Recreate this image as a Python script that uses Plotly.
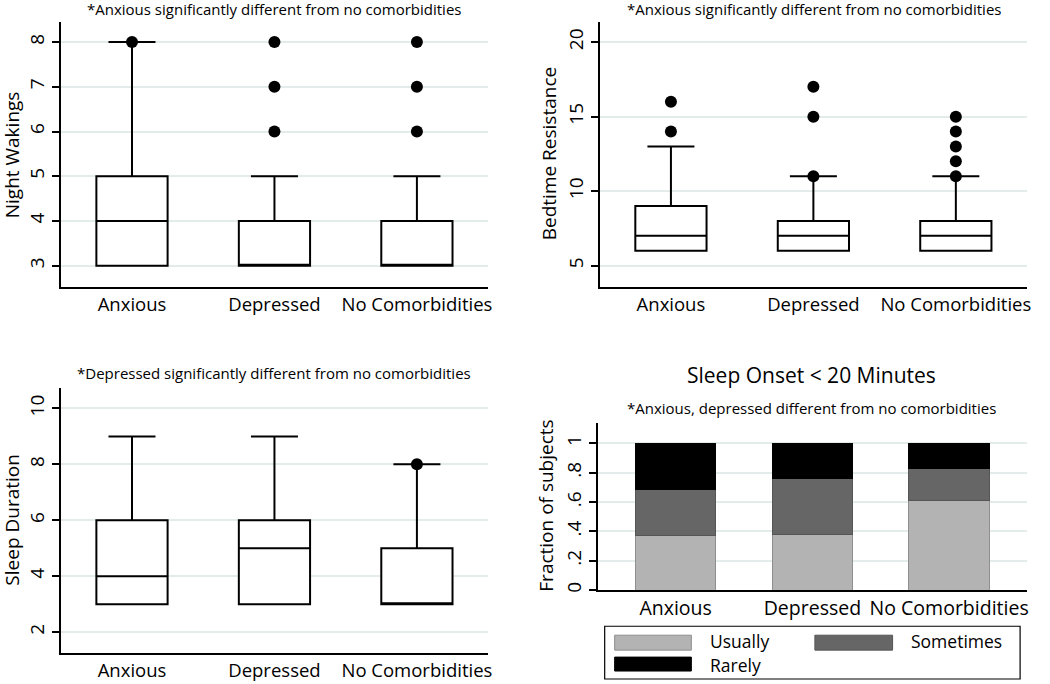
import plotly.graph_objects as go

W, H = 1050, 684
FONT = "Open Sans"

groups = ["Anxious", "Depressed", "No Comorbidities"]

# Night wakings box stats
nw_q1 = [3, 3, 3]
nw_med = [4, 3, 3]
nw_q3 = [5, 4, 4]
nw_lo = [3, 3, 3]
nw_hi = [8, 5, 5]
nw_out_x = ["Anxious", "Depressed", "Depressed", "Depressed",
            "No Comorbidities", "No Comorbidities", "No Comorbidities"]
nw_out_y = [8, 6, 7, 8, 6, 7, 8]

# Bedtime resistance box stats
br_q1 = [6, 6, 6]
br_med = [7, 7, 7]
br_q3 = [9, 8, 8]
br_lo = [6, 6, 6]
br_hi = [13, 11, 11]
br_out_x = ["Anxious", "Anxious", "Depressed", "Depressed", "Depressed",
            "No Comorbidities", "No Comorbidities", "No Comorbidities",
            "No Comorbidities", "No Comorbidities"]
br_out_y = [14, 16, 11, 15, 17, 11, 12, 13, 14, 15]

# Sleep duration box stats
sd_q1 = [3, 3, 3]
sd_med = [4, 5, 3]
sd_q3 = [6, 6, 5]
sd_lo = [3, 3, 3]
sd_hi = [9, 9, 8]
sd_out_x = ["No Comorbidities"]
sd_out_y = [8]

# Sleep onset < 20 minutes (fractions)
usually = [0.373, 0.378, 0.608]
sometimes = [0.312, 0.382, 0.224]
rarely = [0.315, 0.240, 0.168]


def px(x):
    return x / W


def py(y):
    return 1 - y / H


fig = go.Figure()


def add_box(q1, med, q3, lo, hi, ox, oy, xa, ya):
    fig.add_trace(go.Box(
        x=groups, q1=q1, median=med, q3=q3, lowerfence=lo, upperfence=hi,
        boxpoints=False, width=0.5, whiskerwidth=0.66,
        fillcolor="white", line=dict(color="black", width=2),
        xaxis=xa, yaxis=ya, showlegend=False, hoverinfo="skip"))
    fig.add_trace(go.Scatter(
        x=ox, y=oy, mode="markers",
        marker=dict(color="black", size=12),
        xaxis=xa, yaxis=ya, showlegend=False, hoverinfo="skip"))


add_box(nw_q1, nw_med, nw_q3, nw_lo, nw_hi, nw_out_x, nw_out_y, "x", "y")
add_box(br_q1, br_med, br_q3, br_lo, br_hi, br_out_x, br_out_y, "x2", "y2")
add_box(sd_q1, sd_med, sd_q3, sd_lo, sd_hi, sd_out_x, sd_out_y, "x3", "y3")

fig.add_trace(go.Bar(x=groups, y=usually, name="Usually", width=0.59,
                     marker=dict(color="#b3b3b3", line=dict(color="#8f8f8f", width=1)),
                     xaxis="x4", yaxis="y4", showlegend=False))
fig.add_trace(go.Bar(x=groups, y=sometimes, name="Sometimes", width=0.59,
                     marker=dict(color="#666666", line=dict(color="#555555", width=1)),
                     xaxis="x4", yaxis="y4", showlegend=False))
fig.add_trace(go.Bar(x=groups, y=rarely, name="Rarely", width=0.59,
                     marker=dict(color="#000000", line=dict(color="#000000", width=1)),
                     xaxis="x4", yaxis="y4", showlegend=False))

GRID = "#e3ebeb"

xcommon = dict(showline=True, linecolor="black", linewidth=1.5, ticks="",
               showgrid=False, zeroline=False, type="category",
               tickfont=dict(family=FONT, size=18.5, color="black"))
ycommon = dict(showline=True, linecolor="black", linewidth=1.5, ticks="outside",
               ticklen=7, tickwidth=1.5, tickcolor="black", showgrid=True,
               gridcolor=GRID, gridwidth=1.5, zeroline=False, tickangle=-90,
               tickfont=dict(family=FONT, size=19, color="black"))

fig.update_layout(
    width=W, height=H, margin=dict(l=0, r=0, t=0, b=0),
    paper_bgcolor="white", plot_bgcolor="white", barmode="stack",
    font=dict(family=FONT, color="black"),
    xaxis=dict(xcommon, domain=[px(61), px(490)], range=[-0.5, 2.5], anchor="y"),
    yaxis=dict(ycommon, domain=[py(288), py(22)], range=[2.53, 8.45],
               tickvals=[3, 4, 5, 6, 7, 8], anchor="x"),
    xaxis2=dict(xcommon, domain=[px(602), px(1031)], range=[-0.5, 2.5], anchor="y2"),
    yaxis2=dict(ycommon, domain=[py(288), py(22)], range=[3.58, 21.36],
                tickvals=[5, 10, 15, 20], anchor="x2"),
    xaxis3=dict(xcommon, domain=[px(61), px(490)], range=[-0.5, 2.5], anchor="y3"),
    yaxis3=dict(ycommon, domain=[py(656), py(390)], range=[1.25, 10.72],
                tickvals=[2, 4, 6, 8, 10], anchor="x3"),
    xaxis4=dict(xcommon, domain=[px(600), px(1031)], range=[-0.57, 2.57], anchor="y4",
                tickfont=dict(family=FONT, size=19.5, color="black")),
    yaxis4=dict(ycommon, domain=[py(592.7), py(425)], range=[0, 1.138],
                tickvals=[0, 0.2, 0.4, 0.6, 0.8, 1],
                ticktext=["0", ".2", ".4", ".6", ".8", "1"], anchor="x4"),
)

ann = []


def text(x, y, s, size, angle=0, xanchor="center"):
    ann.append(dict(x=px(x), y=py(y), xref="paper", yref="paper", text=s,
                    showarrow=False, textangle=angle, xanchor=xanchor,
                    yanchor="middle", font=dict(family=FONT, size=size, color="black")))


text(275, 9, "*Anxious significantly different from no comorbidities", 15)
text(817, 9, "*Anxious significantly different from no comorbidities", 15)
text(275, 375, "*Depressed significantly different from no comorbidities", 15)
text(815, 377, "Sleep Onset < 20 Minutes", 21)
text(815, 410, "*Anxious, depressed different from no comorbidities", 15)

text(12, 155, "Night Wakings", 19, -90)
text(551, 154, "Bedtime Resistance", 19, -90)
text(12, 522, "Sleep Duration", 19, -90)
text(548, 508, "Fraction of subjects", 19, -90)

# legend
text(711, 644, "Usually", 17.5, xanchor="left")
text(912, 644, "Sometimes", 17.5, xanchor="left")
text(711, 668, "Rarely", 17.5, xanchor="left")

shapes = [
    dict(type="rect", xref="paper", yref="paper", x0=px(607), x1=px(1024),
         y0=py(682), y1=py(629), line=dict(color="black", width=1.2), fillcolor="rgba(0,0,0,0)"),
    dict(type="rect", xref="paper", yref="paper", x0=px(617), x1=px(694),
         y0=py(653), y1=py(638), line=dict(color="#8f8f8f", width=1), fillcolor="#b3b3b3"),
    dict(type="rect", xref="paper", yref="paper", x0=px(818), x1=px(896),
         y0=py(653), y1=py(638), line=dict(color="#555555", width=1), fillcolor="#666666"),
    dict(type="rect", xref="paper", yref="paper", x0=px(617), x1=px(694),
         y0=py(674), y1=py(660), line=dict(color="black", width=1), fillcolor="black"),
]

fig.update_layout(annotations=ann, shapes=shapes)

fig.write_html("out.html", config={"displayModeBar": False},
               post_script="document.body.style.margin='0';document.body.style.overflow='hidden';")
